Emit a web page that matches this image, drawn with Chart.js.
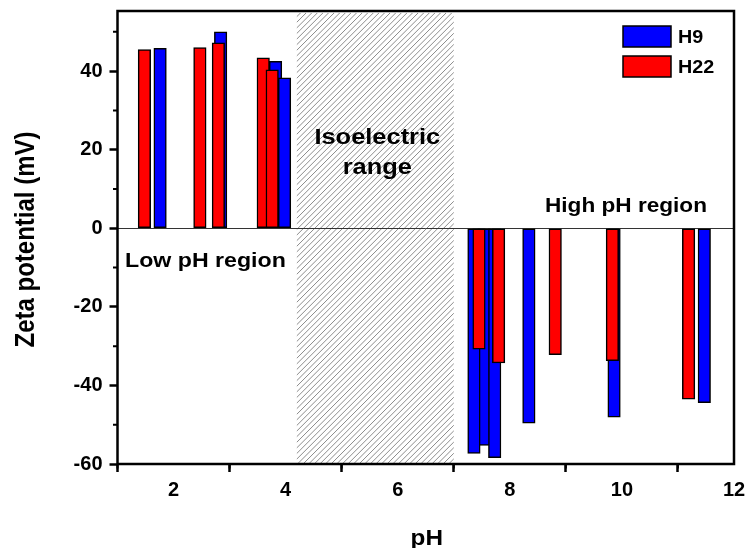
<!DOCTYPE html>
<html>
<head>
<meta charset="utf-8">
<script src="https://cdn.jsdelivr.net/npm/chart.js@4.4.1/dist/chart.umd.min.js"></script>
<style>
  html, body { margin: 0; padding: 0; background: #fff; }
  #wrap { width: 749px; height: 548px; }
</style>
</head>
<body>
<div id="wrap"><canvas id="c" width="749" height="548"></canvas></div>
<script>
// Zeta potential measurements (mV) at each pH
const h9Ph    = [1.76, 2.84, 3.82, 3.98, 7.54, 7.36, 7.73, 8.34, 9.86, 11.47];
const h9Zeta  = [45.8, 50.0, 42.5, 38.3, -55.3, -57.3, -58.4, -49.6, -48.1, -44.4];
const h22Ph   = [1.48, 2.47, 2.80, 3.60, 3.76, 7.45, 7.80, 8.81, 9.83, 11.19];
const h22Zeta = [45.5, 46.0, 47.2, 43.4, 40.3, -30.8, -34.3, -32.2, -33.7, -43.5];

const xTicks = [2, 4, 6, 8, 10, 12];
const yTicks = [-60, -40, -20, 0, 20, 40];
const xMinor = [1, 3, 5, 7, 9, 11];
const yMinor = [-50, -30, -10, 10, 30, 50];
const isoRange = [4.2, 7.0];

const FONT = '"Liberation Sans", Arial, Helvetica, sans-serif';
const WIDE = 1.13; // slightly widened lettering for the annotations

const toPoints = (xs, ys) => xs.map((x, i) => ({ x: x, y: ys[i] }));

function wideText(ctx, text, x, y, size, align) {
  ctx.save();
  ctx.font = 'bold ' + size + 'px ' + FONT;
  ctx.textAlign = align;
  ctx.textBaseline = 'alphabetic';
  ctx.translate(x, y);
  ctx.scale(WIDE, 1);
  ctx.fillText(text, 0, 0);
  ctx.restore();
}

const decor = {
  id: 'decor',
  beforeDatasetsDraw(chart) {
    const { ctx, chartArea: a, scales: { x, y } } = chart;
    // hatched isoelectric band
    const x0 = x.getPixelForValue(isoRange[0]);
    const x1 = x.getPixelForValue(isoRange[1]);
    ctx.save();
    ctx.beginPath();
    ctx.rect(x0, a.top + 2, x1 - x0, a.bottom - a.top - 3);
    ctx.clip();
    ctx.strokeStyle = '#8c8c8c';
    ctx.lineWidth = 1;
    const h = a.bottom - a.top;
    ctx.beginPath();
    for (let s = x0 - h; s < x1 + h; s += 5.6) {
      ctx.moveTo(s, a.bottom);
      ctx.lineTo(s + h, a.top);
    }
    ctx.stroke();
    ctx.restore();

    // zero line
    const y0 = Math.round(y.getPixelForValue(0)) + 0.5;
    ctx.save();
    ctx.strokeStyle = '#333';
    ctx.lineWidth = 1;
    ctx.beginPath();
    ctx.moveTo(a.left, y0);
    ctx.lineTo(a.right, y0);
    ctx.stroke();
    ctx.restore();
  },
  afterDatasetsDraw(chart) {
    const { ctx, chartArea: a, scales: { x, y } } = chart;
    ctx.save();
    // frame
    ctx.strokeStyle = '#000';
    ctx.lineWidth = 2.5;
    ctx.strokeRect(a.left, a.top, a.right - a.left, a.bottom - a.top);

    // minor ticks
    ctx.lineWidth = 2;
    ctx.beginPath();
    xMinor.forEach(v => {
      const px = x.getPixelForValue(v);
      ctx.moveTo(px, a.bottom);
      ctx.lineTo(px, a.bottom + 4.5);
    });
    yMinor.forEach(v => {
      const py = y.getPixelForValue(v);
      ctx.moveTo(a.left, py);
      ctx.lineTo(a.left - 4.5, py);
    });
    ctx.stroke();
    ctx.fillStyle = '#000';

    // region labels
    const xc = x.getPixelForValue((isoRange[0] + isoRange[1]) / 2) + 2;
    wideText(ctx, 'Isoelectric', xc, 143.5, 22.5, 'center');
    wideText(ctx, 'range', xc, 173.5, 22.5, 'center');
    wideText(ctx, 'Low pH region', 125, 266.5, 20.5, 'left');
    wideText(ctx, 'High pH region', 545, 211.5, 20, 'left');

    // legend
    chart.data.datasets.forEach((d, i) => {
      const top = 26 + i * 30;
      ctx.fillStyle = d.backgroundColor;
      ctx.fillRect(623, top, 48, 21);
      ctx.strokeStyle = '#000';
      ctx.lineWidth = 1.5;
      ctx.strokeRect(623, top, 48, 21);
      ctx.fillStyle = '#000';
      wideText(ctx, d.label, 678, top + 17, 17.5, 'left');
    });

    // axis titles
    wideText(ctx, 'pH', (a.left + a.right) / 2 + 1, 545, 21.5, 'center');
    ctx.font = 'bold 24px ' + FONT;
    ctx.textAlign = 'center';
    ctx.textBaseline = 'middle';
    ctx.translate(27, (a.top + a.bottom) / 2 + 2);
    ctx.rotate(-Math.PI / 2);
    ctx.scale(1, WIDE);
    ctx.fillText('Zeta potential (mV)', 0, 0);
    ctx.restore();
  }
};

new Chart(document.getElementById('c'), {
  type: 'bar',
  data: {
    datasets: [
      {
        label: 'H9',
        data: toPoints(h9Ph, h9Zeta),
        backgroundColor: '#0000ff',
        borderColor: '#000',
        borderWidth: 1.5,
        borderSkipped: false,
        order: 1
      },
      {
        label: 'H22',
        data: toPoints(h22Ph, h22Zeta),
        backgroundColor: '#ff0000',
        borderColor: '#000',
        borderWidth: 1.5,
        borderSkipped: false,
        order: 0
      }
    ]
  },
  options: {
    responsive: false,
    animation: false,
    devicePixelRatio: 1,
    layout: { padding: { top: 11, right: 15, left: 0, bottom: 0 } },
    datasets: { bar: { barThickness: 12.5, grouped: false } },
    plugins: { legend: { display: false }, tooltip: { enabled: false } },
    scales: {
      x: {
        type: 'linear',
        min: 1, max: 12,
        offset: false,
        afterBuildTicks: s => { s.ticks = xTicks.map(v => ({ value: v })); },
        afterFit: s => { s.height = 84; s.paddingLeft = 0; s.paddingRight = 0; },
        grid: { drawOnChartArea: false, drawTicks: true, tickLength: 8, tickWidth: 2.5, tickColor: '#000' },
        border: { display: false },
        ticks: { color: '#000', font: { family: FONT, size: 20, weight: 'bold' }, padding: 6, maxRotation: 0 }
      },
      y: {
        min: -60, max: 55.3,
        afterBuildTicks: s => { s.ticks = yTicks.map(v => ({ value: v })); },
        afterFit: s => { s.width = 117.5; s.paddingTop = 0; s.paddingBottom = 0; },
        grid: { drawOnChartArea: false, drawTicks: true, tickLength: 8, tickWidth: 2.5, tickColor: '#000' },
        border: { display: false },
        ticks: { color: '#000', font: { family: FONT, size: 20, weight: 'bold' }, padding: 7 }
      }
    }
  },
  plugins: [decor]
});
</script>
</body>
</html>
